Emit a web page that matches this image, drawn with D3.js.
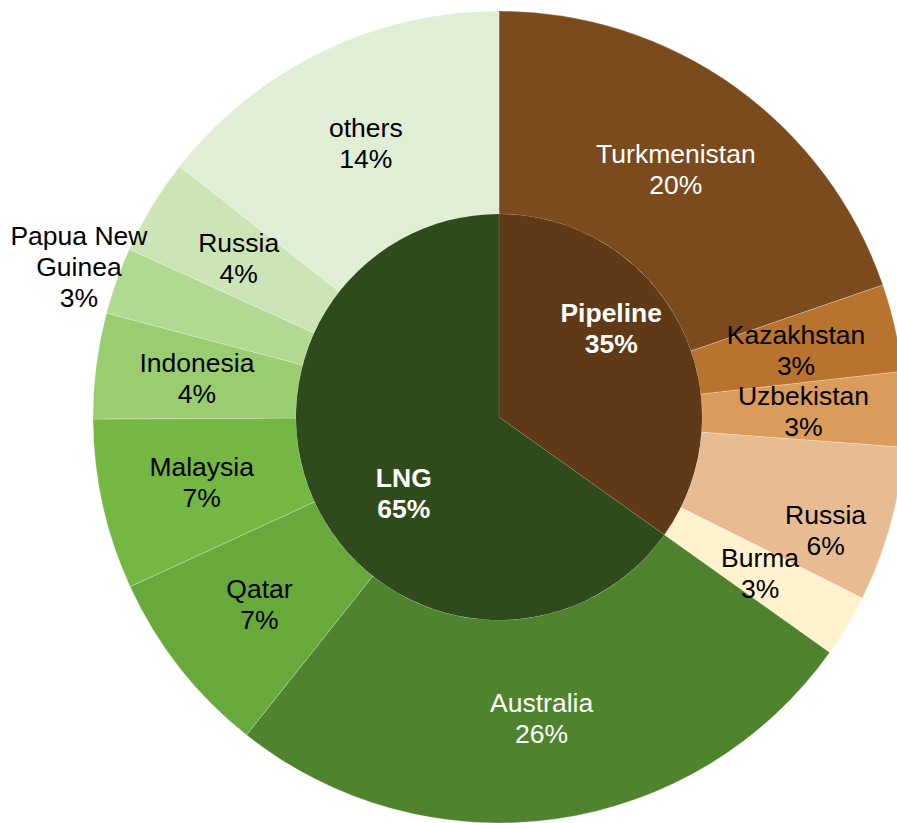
<!DOCTYPE html>
<html><head><meta charset="utf-8">
<script src="https://cdn.jsdelivr.net/npm/d3@7"></script>
<style>html,body{margin:0;padding:0;background:#fff;overflow:hidden}</style>
</head><body><svg id="c" width="897" height="823"></svg>
<script>
// Inner ring (supply type)
const innerNames = ["Pipeline", "LNG"];
const innerValues = [34.85, 65.15];
const innerLabels = ["35%", "65%"];
const innerColors = ["#603916", "#2f4b1c"];

// Outer ring (sources)
const outerNames = ["Turkmenistan", "Kazakhstan", "Uzbekistan", "Russia", "Burma",
  "Australia", "Qatar", "Malaysia", "Indonesia", "Papua New Guinea", "Russia", "others"];
const outerValues = [19.73, 3.48, 2.98, 6.17, 2.49,
  25.83, 7.46, 6.78, 4.20, 2.66, 3.81, 14.41];
const outerLabels = ["20%", "3%", "3%", "6%", "3%",
  "26%", "7%", "7%", "4%", "3%", "4%", "14%"];
const outerColors = ["#7b4b1e", "#b8732e", "#da9b5b", "#e7bc93", "#fff2cd",
  "#4f832e", "#67aa3b", "#75b743", "#9acd70", "#b1d991", "#cce5b6", "#dfeed4"];
const outerTextColors = ["#fff", "#000", "#000", "#000", "#000",
  "#fff", "#000", "#000", "#000", "#000", "#000", "#000"];

const svg = d3.select("#c");
const cx = 499, cy = 417, R = 406, r0 = 203;
const g = svg.append("g").attr("transform", `translate(${cx},${cy})`);
const pie = d3.pie().sort(null).value(d => d);

const innerArcs = pie(innerValues);
const outerArcs = pie(outerValues);
const arcIn = d3.arc().innerRadius(0).outerRadius(r0);
const arcOut = d3.arc().innerRadius(r0).outerRadius(R);

g.selectAll("path.o").data(outerArcs).join("path").attr("class", "o")
  .attr("d", arcOut).attr("fill", (d, i) => outerColors[i])
  .attr("stroke", "rgba(255,255,255,0.4)").attr("stroke-width", 0.6);
g.selectAll("path.i").data(innerArcs).join("path").attr("class", "i")
  .attr("d", arcIn).attr("fill", (d, i) => innerColors[i])
  .attr("stroke", "none");
// faint radial separators in the inner pie
innerArcs.forEach(d => {
  g.append("line").attr("x1", 0).attr("y1", 0)
    .attr("x2", r0 * Math.sin(d.startAngle)).attr("y2", -r0 * Math.cos(d.startAngle))
    .attr("stroke", "rgba(255,255,255,0.25)").attr("stroke-width", 0.6);
});

const font = "Liberation Sans, Arial, sans-serif";
const fs = 26.5, lh = 31;

function drawLabel(lines, x, y, color, bold) {
  const t = g.append("text").attr("text-anchor", "middle")
    .attr("font-family", font).attr("font-size", fs)
    .attr("font-weight", bold ? "bold" : "normal").attr("fill", color);
  const n = lines.length;
  lines.forEach((l, k) => {
    t.append("tspan").attr("x", x).attr("y", y + (k - (n - 1) / 2) * lh)
      .attr("dominant-baseline", "central").text(l);
  });
}

// inner labels (nudged like the original)
const innerShift = [[22, -42], [-5, 30]];
innerArcs.forEach((d, i) => {
  const [x, y] = arcIn.centroid(d);
  drawLabel([innerNames[i], innerLabels[i]], x + innerShift[i][0], y + innerShift[i][1], "#fff", true);
});

outerArcs.forEach((d, i) => {
  let [x, y] = arcOut.centroid(d);
  let lines = [outerNames[i], outerLabels[i]];
  if (i === 3) { x += 33; y += 33; }
  if (i === 9) {
    const a = (d.startAngle + d.endAngle) / 2, rr = 446;
    x = rr * Math.sin(a); y = -rr * Math.cos(a);
    lines = ["Papua New", "Guinea", outerLabels[i]];
  }
  drawLabel(lines, x, y, outerTextColors[i], false);
});
</script></body></html>
